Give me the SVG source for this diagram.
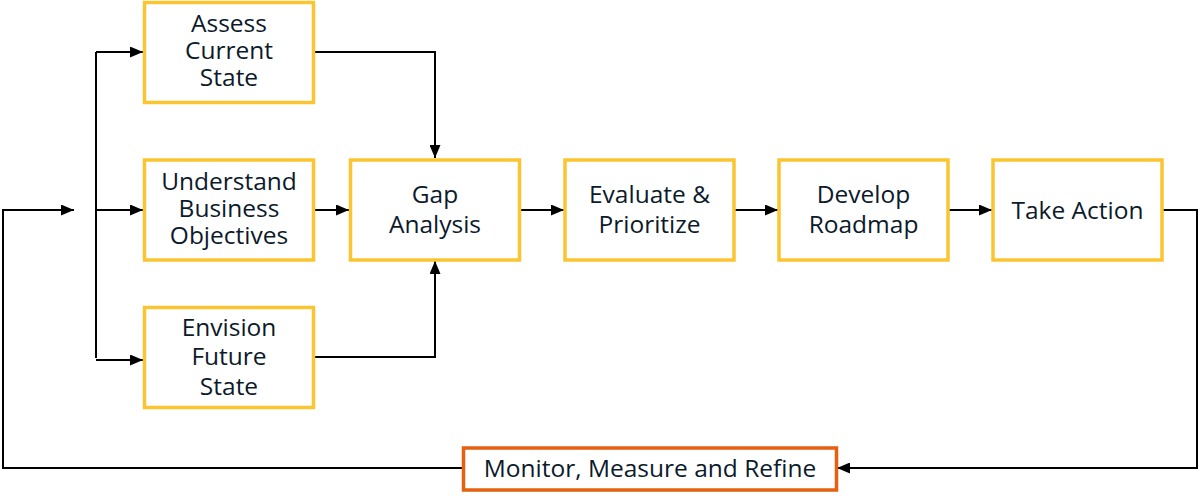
<svg xmlns="http://www.w3.org/2000/svg" width="1200" height="498" viewBox="0 0 1200 498">
<style>
.box{fill:#fff;stroke:#FBC531;stroke-width:3.5}
.mon{fill:#fff;stroke:#E5600F;stroke-width:3.5}
.t{font-family:"Open Sans","Noto Sans",sans-serif;font-size:24.5px;fill:#0c1a2b;text-anchor:middle}
.c{fill:none;stroke:#000;stroke-width:2}
</style>
<defs>
<marker id="ah" markerWidth="13" markerHeight="11" refX="13" refY="5.5" orient="auto" markerUnits="userSpaceOnUse">
<path d="M0,0 L13,5.5 L0,11 z" fill="#000"/>
</marker>
</defs>
<rect width="1200" height="498" fill="#fff"/>
<g id="connectors">
<path class="c" d="M96,52 V358"/>
<path class="c" d="M96,52 H143" marker-end="url(#ah)"/>
<path class="c" d="M96,210 H143" marker-end="url(#ah)"/>
<path class="c" d="M96,360 H143" marker-end="url(#ah)"/>
<path class="c" d="M462,468 H3 V210 H74" marker-end="url(#ah)"/>
<path class="c" d="M313,52 H435 V158" marker-end="url(#ah)"/>
<path class="c" d="M313,357 H435 V261" marker-end="url(#ah)"/>
<path class="c" d="M313,210 H349" marker-end="url(#ah)"/>
<path class="c" d="M519,210 H564" marker-end="url(#ah)"/>
<path class="c" d="M734,210 H778" marker-end="url(#ah)"/>
<path class="c" d="M948,210 H992" marker-end="url(#ah)"/>
<path class="c" d="M1162,210 H1197 V468 H837" marker-end="url(#ah)"/>
</g>
<g id="assess">
<rect class="box" x="144.5" y="2.5" width="169" height="100"/>
<text class="t" x="229" y="32">Assess</text>
<text class="t" x="229" y="59">Current</text>
<text class="t" x="229" y="86">State</text>
</g>
<g id="understand">
<rect class="box" x="144.5" y="160" width="169" height="100"/>
<text class="t" x="229" y="190">Understand</text>
<text class="t" x="229" y="217">Business</text>
<text class="t" x="229" y="244">Objectives</text>
</g>
<g id="envision">
<rect class="box" x="144.5" y="307.5" width="169" height="100"/>
<text class="t" x="229" y="336">Envision</text>
<text class="t" x="229" y="365">Future</text>
<text class="t" x="229" y="395">State</text>
</g>
<g id="gap">
<rect class="box" x="350.5" y="160" width="169" height="100"/>
<text class="t" x="435" y="203">Gap</text>
<text class="t" x="435" y="233">Analysis</text>
</g>
<g id="evaluate">
<rect class="box" x="565" y="160" width="169" height="100"/>
<text class="t" x="649.5" y="203">Evaluate &amp;</text>
<text class="t" x="649.5" y="233">Prioritize</text>
</g>
<g id="develop">
<rect class="box" x="779" y="160" width="169" height="100"/>
<text class="t" x="863.5" y="203">Develop</text>
<text class="t" x="863.5" y="233">Roadmap</text>
</g>
<g id="take-action">
<rect class="box" x="993" y="160" width="169" height="100"/>
<text class="t" x="1077.5" y="219">Take Action</text>
</g>
<g id="monitor">
<rect class="mon" x="463.5" y="448" width="373" height="42"/>
<text class="t" x="650" y="477">Monitor, Measure and Refine</text>
</g>
</svg>
